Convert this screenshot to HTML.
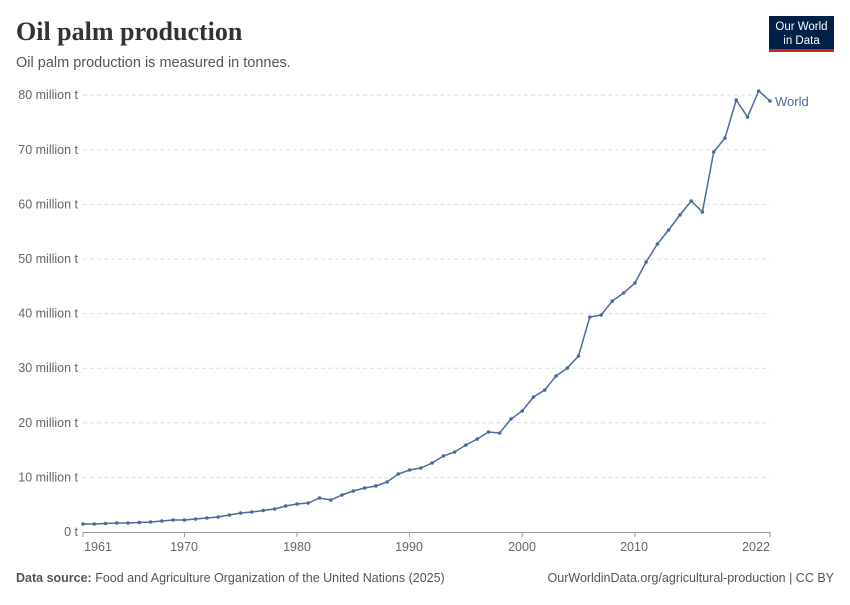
<!DOCTYPE html>
<html><head><meta charset="utf-8"><style>
body{margin:0;background:#fff;width:850px;height:600px;overflow:hidden;font-family:"Liberation Sans",sans-serif}
</style></head><body>
<svg id="s" width="850" height="600" xmlns="http://www.w3.org/2000/svg">
<text x="16" y="40" font-family="Liberation Serif,serif" font-size="26" font-weight="bold" fill="#333">Oil palm production</text>
<text x="16" y="67" font-size="14.5" fill="#555">Oil palm production is measured in tonnes.</text>
<rect x="769" y="16" width="65" height="36" fill="#002147"/>
<rect x="769" y="49" width="65" height="3" fill="#ce261e"/>
<text x="801.5" y="30" font-size="11.5" fill="#fff" text-anchor="middle">Our World</text>
<text x="801.5" y="44" font-size="11.5" fill="#fff" text-anchor="middle">in Data</text>
<g id="grid" font-size="12.5" fill="#666"></g>
<line x1="83" y1="532.5" x2="770" y2="532.5" stroke="#999"/>
<g stroke="#999">
<line x1="83" x2="83" y1="532" y2="537"/><line x1="184.4" x2="184.4" y1="532" y2="537"/><line x1="297" x2="297" y1="532" y2="537"/><line x1="409.6" x2="409.6" y1="532" y2="537"/><line x1="522.2" x2="522.2" y1="532" y2="537"/><line x1="634.9" x2="634.9" y1="532" y2="537"/><line x1="770" x2="770" y1="532" y2="537"/>
</g>
<g font-size="12.5" fill="#666" text-anchor="middle">
<text x="98" y="551">1961</text><text x="184" y="551">1970</text><text x="297" y="551">1980</text><text x="409" y="551">1990</text><text x="522" y="551">2000</text><text x="634" y="551">2010</text><text x="756" y="551">2022</text>
</g>
<g id="ln"></g>
<text x="775" y="106" font-size="13" fill="#4c6a9c">World</text>
<text x="16" y="582" font-size="12.5" fill="#555"><tspan font-weight="bold">Data source:</tspan> Food and Agriculture Organization of the United Nations (2025)</text>
<text x="834" y="582" font-size="12.5" fill="#555" text-anchor="end">OurWorldinData.org/agricultural-production | CC BY</text>
</svg>
<script>
var g=document.getElementById('grid'),h='';
for(var i=0;i<=8;i++){var y=532-i*54.6;
if(i>0)h+='<line x1="83" x2="770" y1="'+y+'" y2="'+y+'" stroke="#ddd" stroke-dasharray="4,3"/>';
h+='<text x="78" y="'+(y+4)+'" text-anchor="end">'+(i==0?'0 t':(i*10)+' million t')+'</text>';}
g.innerHTML=h;
var ys=[524,524,523.5,523,523,522.5,522,521,520,520,519,518,517,515,513,512,510.5,509,506,504,503,498,500,495,491,488,486,482,474,470,468,463,456,452,445,439,432,433,419,411,397,390,376,368,356,317,315,301,293,283,262,244,230,215,201,212,152,138,100,117,91,101];
var p=[],c='';
ys.forEach(function(y,i){var x=83+i*687/61;p.push(x.toFixed(1)+','+y);c+='<circle cx="'+x.toFixed(1)+'" cy="'+y+'" r="1.8" fill="#4c6a9c"/>';});
document.getElementById('ln').innerHTML='<polyline points="'+p.join(' ')+'" fill="none" stroke="#4c6a9c" stroke-width="1.5"/>'+c;
</script>
</body></html>
